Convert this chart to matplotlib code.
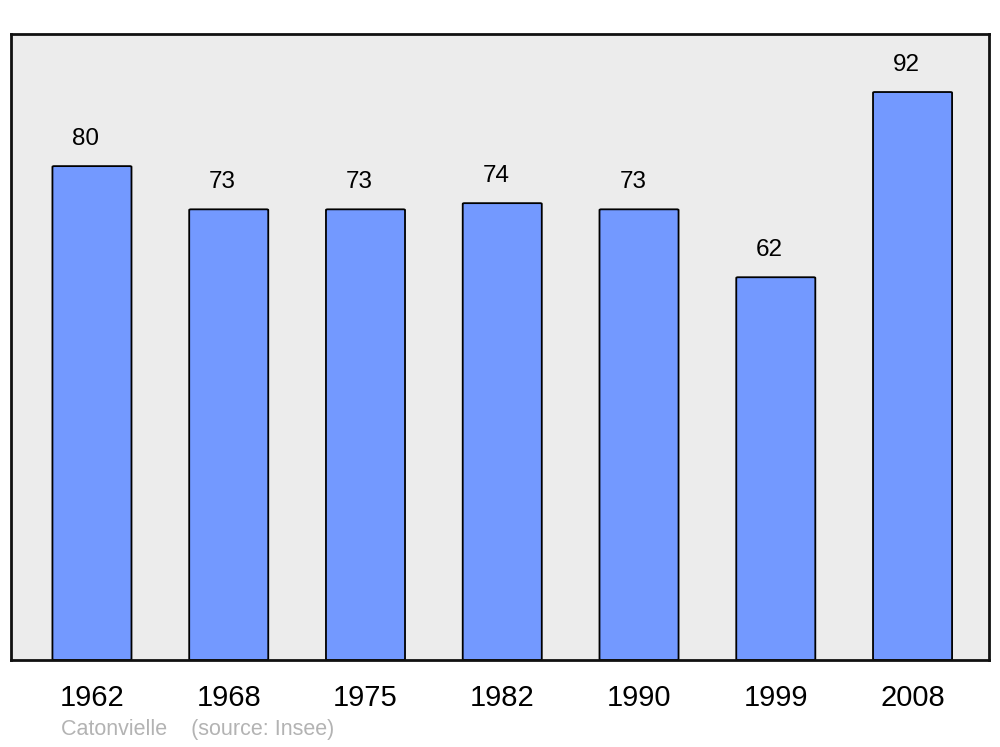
import matplotlib
matplotlib.use("Agg")
import matplotlib.pyplot as plt
from matplotlib.patches import FancyBboxPatch

years = ["1962", "1968", "1975", "1982", "1990", "1999", "2008"]
population = [80, 73, 73, 74, 73, 62, 92]

plt.rcParams['font.family'] = ['Liberation Sans', 'DejaVu Sans']

fig = plt.figure(figsize=(10, 7.47), dpi=100)
# axes box in pixels: x 11..989, y 34..660 (from top)
ax = fig.add_axes([11 / 1000, (747 - 660) / 747, 978 / 1000, 626 / 747])
ax.set_facecolor('#ececec')

x = list(range(len(years)))
bar_w = 0.578
for xi, v in zip(x, population):
    patch = FancyBboxPatch((xi - bar_w / 2, 0), bar_w, v,
                           boxstyle="round,pad=0,rounding_size=0.012",
                           mutation_aspect=101.4 / 7.15 * 0.72,
                           facecolor='#7399ff', edgecolor='black', linewidth=1.3,
                           zorder=2)
    ax.add_patch(patch)
    ax.text(xi - 0.045, v + 4.4, str(v), ha='center', va='center', fontsize=17.5)

ax.set_xlim(-0.592, 6.559)
ax.set_ylim(0, 101.4)
ax.set_xticks(x)
ax.set_xticklabels(years, fontsize=21)
ax.tick_params(axis='x', length=0, pad=17)
ax.set_yticks([])
for s in ax.spines.values():
    s.set_linewidth(2)
    s.set_color('#111111')

fig.text(61 / 1000, 1 - 730 / 747, "Catonvielle    (source: Insee)", fontsize=15.5,
         color='#b3b3b3', ha='left', va='center')

fig.savefig("out.png", dpi=100)
